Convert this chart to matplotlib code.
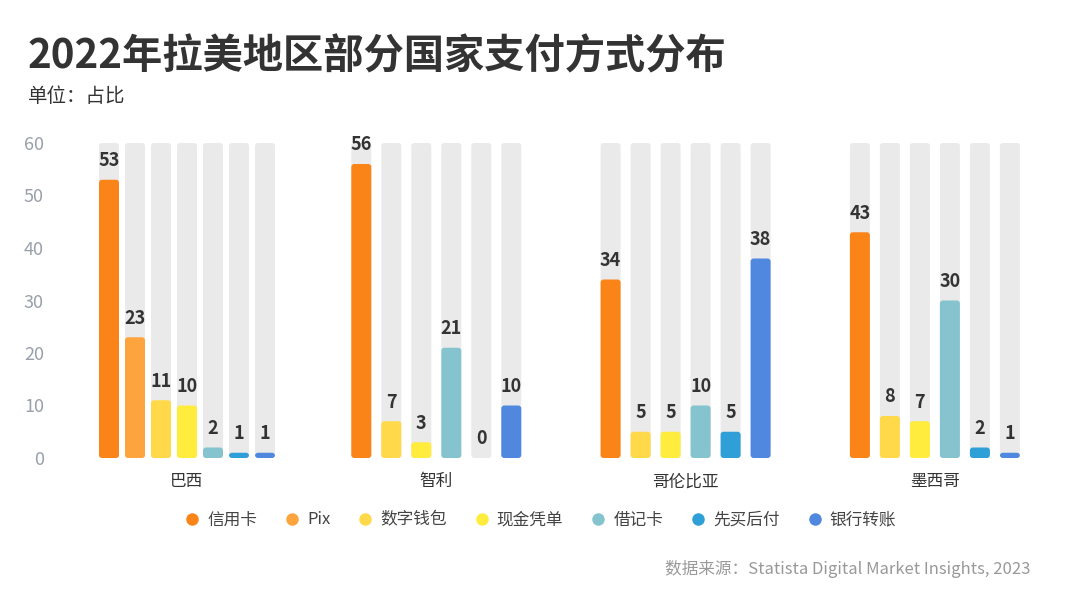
import numpy as np
import matplotlib
matplotlib.use("Agg")
import matplotlib.pyplot as plt
from matplotlib.patches import FancyBboxPatch
from matplotlib.lines import Line2D

plt.rcParams['font.family'] = ['Noto Sans CJK SC', 'DejaVu Sans']

countries = ['巴西', '智利', '哥伦比亚', '墨西哥']
methods = ['信用卡', 'Pix', '数字钱包', '现金凭单', '借记卡', '先买后付', '银行转账']
colors = ['#FB8419', '#FDA43E', '#FFD94A', '#FFEC3D', '#85C4CE', '#2F9FD8', '#5088E0']

# None = 该国无此支付方式
credit_card = [53, 56, 34, 43]
pix = [23, None, None, None]
digital_wallet = [11, 7, 5, 8]
cash_voucher = [10, 3, 5, 7]
debit_card = [2, 21, 10, 30]
bnpl = [1, 0, 5, 2]
bank_transfer = [1, 10, 38, 1]
series = [credit_card, pix, digital_wallet, cash_voucher, debit_card, bnpl, bank_transfer]

y_max = 60

fig = plt.figure(figsize=(10.8, 6.07), dpi=100)
ax = fig.add_axes([55 / 1080, 149 / 607, 1005 / 1080, 315 / 607])

px_per_unit = 249.3
ax.set_xlim((55 - 187) / px_per_unit, (1060 - 187) / px_per_unit)
ax.set_ylim(0, y_max)

bar_w = 20 / px_per_unit
r = 3 / px_per_unit
aspect = (y_max / 315) / (1 / px_per_unit)


def rounded_bar(x, h, color, z):
    p = FancyBboxPatch((x - bar_w / 2, 0), bar_w, h,
                       boxstyle=f"round,pad=0,rounding_size={r}",
                       mutation_aspect=aspect, fc=color, ec='none', zorder=z)
    ax.add_patch(p)


for gi, country in enumerate(countries):
    present = [mi for mi, s in enumerate(series) if s[gi] is not None]
    n = len(present)
    step = (26 if n == 7 else 30) / px_per_unit
    for k, mi in enumerate(present):
        x = gi + (k - (n - 1) / 2) * step
        v = series[mi][gi]
        rounded_bar(x, y_max, '#EAEAEA', 1)
        if v > 0:
            rounded_bar(x, v, colors[mi], 2)
        ax.annotate(str(v), (x, v), xytext=(0, 7), textcoords='offset points',
                    ha='center', va='bottom', fontsize=13, fontweight='bold',
                    color='#333333', zorder=3)

ax.set_yticks(range(0, 61, 10))
ax.tick_params(axis='y', length=0, labelsize=13, labelcolor='#9AA0AA', pad=8)
ax.set_xticks(range(len(countries)))
ax.set_xticklabels(countries)
ax.tick_params(axis='x', length=0, labelsize=12, labelcolor='#333333', pad=11)
for s in ax.spines.values():
    s.set_visible(False)

fig.text(28 / 1080, 1 - 57 / 607, '2022年拉美地区部分国家支付方式分布',
         fontsize=29, fontweight='bold', color='#333333', va='center', ha='left')
fig.text(28 / 1080, 1 - 96 / 607, '单位：占比', fontsize=14, color='#333333',
         va='center', ha='left')

handles = [Line2D([], [], marker='o', ls='none', markersize=9, color=c,
                  markeredgewidth=0) for c in colors]
fig.legend(handles, methods, loc='center', bbox_to_anchor=(0.5, 1 - 520 / 607),
           ncol=7, frameon=False, fontsize=12, handlelength=1.0, handletextpad=0.4,
           columnspacing=1.6, labelcolor='#444444')

fig.text(1030 / 1080, 1 - 569 / 607, '数据来源：Statista Digital Market Insights, 2023',
         fontsize=12, color='#999999', ha='right', va='center')

fig.savefig('out.png', dpi=100, facecolor='white')
